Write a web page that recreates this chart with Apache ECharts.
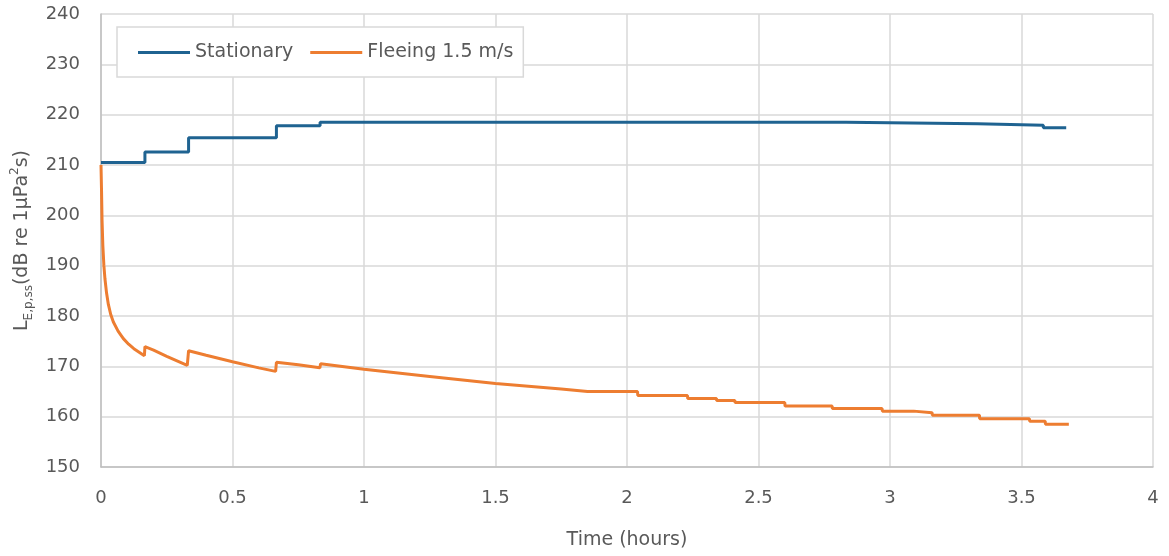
<!DOCTYPE html>
<html>
<head>
<meta charset="utf-8">
<title>Exposure level over time</title>
<script src="https://cdn.jsdelivr.net/npm/echarts@6/dist/echarts.min.js"></script>
<style>
  html, body { margin: 0; padding: 0; background: #fff; }
  #chart { width: 1169px; height: 556px; }
</style>
</head>
<body>
<div id="chart"></div>
<script>
// data (time in hours, level in dB)
const stationaryTime = [0, 0.167, 0.333, 0.667, 0.833, 2.833, 3.333, 3.583, 3.67];
const stationaryLevel = [210.5, 212.6, 215.4, 217.8, 218.5, 218.2, 217.9, 217.4, 217.4];

const fleeingTime = [
  0, 0.002, 0.004, 0.007, 0.011, 0.015, 0.021, 0.028, 0.037, 0.047, 0.065, 0.085, 0.105, 0.125, 0.145, 0.165,
  0.167, 0.2, 0.25, 0.328,
  0.333, 0.4, 0.5, 0.6, 0.664,
  0.667, 0.75, 0.832,
  0.835, 1.0, 1.25, 1.5, 1.75, 1.85, 2.04,
  2.041, 2.23, 2.231, 2.34, 2.341, 2.41, 2.411, 2.6, 2.601, 2.78, 2.781, 2.97, 2.971,
  3.09, 3.091, 3.16, 3.161, 3.34, 3.341, 3.53, 3.531, 3.59, 3.591, 3.68
];
const fleeingLevel = [
  210, 205, 199, 194, 190, 187.4, 184.6, 182.3, 180.3, 178.8, 177, 175.5, 174.4, 173.5, 172.8, 172.1,
  173.9, 173.2, 172.0, 170.2,
  173.1, 172.2, 170.9, 169.7, 169.0,
  170.8, 170.3, 169.7,
  170.5, 169.4, 168.0, 166.6, 165.5, 165.0, 165.0,
  164.2, 164.2, 163.6, 163.6, 163.2, 163.2, 162.8, 162.8, 162.1, 162.1, 161.6, 161.6, 161.1, 161.1,
  160.8, 160.8, 160.3, 160.3, 159.6, 159.6, 159.1, 159.1, 158.5, 158.5
];

const xTicks = { min: 0, max: 4, interval: 0.5 };
const yTicks = { min: 150, max: 240, interval: 10 };

const textColor = "#595959";
const fontFamily = "DejaVu Sans";

const chart = echarts.init(document.getElementById("chart"));

const option = {
  animation: false,
  textStyle: { fontFamily: fontFamily, color: textColor },
  grid: { left: 101, right: 16, top: 14, bottom: 89 },
  legend: {
    left: 117,
    top: 27,
    padding: [16, 10, 15, 21],
    backgroundColor: "#fff",
    borderColor: "#d9d9d9",
    borderWidth: 1.5,
    itemWidth: 52,
    itemHeight: 3,
    itemGap: 17,
    icon: "rect",
    textStyle: { fontSize: 19, color: textColor, fontFamily: fontFamily },
    data: ["Stationary", "Fleeing 1.5 m/s"],
  },
  xAxis: {
    type: "value",
    min: xTicks.min,
    max: xTicks.max,
    interval: xTicks.interval,
    name: "Time (hours)",
    nameLocation: "middle",
    nameGap: 64,
    nameTextStyle: { fontSize: 19, color: textColor },
    axisLine: { show: true, lineStyle: { color: "#bfbfbf", width: 1.5 } },
    axisTick: { show: false },
    axisLabel: { fontSize: 18, color: textColor, margin: 22 },
    splitLine: { show: true, lineStyle: { color: "#d9d9d9", width: 1.5 } },
  },
  yAxis: {
    type: "value",
    min: yTicks.min,
    max: yTicks.max,
    interval: yTicks.interval,
    name: "{m|L}{sub|E,p,ss}{m|(dB re 1μPa}{sup|2}{m|s)}",
    nameLocation: "middle",
    nameGap: 64,
    nameTextStyle: {
      fontSize: 19,
      color: textColor,
      rich: {
        m: { fontSize: 19, color: textColor, lineHeight: 26 },
        sub: { fontSize: 12, color: textColor, verticalAlign: "bottom", lineHeight: 26 },
        sup: { fontSize: 12, color: textColor, verticalAlign: "top", lineHeight: 26 },
      },
    },
    axisLine: { show: true, lineStyle: { color: "#bfbfbf", width: 1.5 } },
    axisTick: { show: false },
    axisLabel: { fontSize: 18, color: textColor, margin: 21 },
    splitLine: { show: true, lineStyle: { color: "#d9d9d9", width: 1.5 } },
  },
  series: [
    {
      name: "Stationary",
      type: "line",
      step: "end",
      showSymbol: false,
      symbol: "none",
      color: "#1f6391",
      lineStyle: { width: 3, color: "#1f6391" },
      data: stationaryTime.map((t, i) => [t, stationaryLevel[i]]),
      z: 3,
    },
    {
      name: "Fleeing 1.5 m/s",
      type: "line",
      showSymbol: false,
      symbol: "none",
      color: "#ed7d31",
      lineStyle: { width: 3, color: "#ed7d31" },
      data: fleeingTime.map((t, i) => [t, fleeingLevel[i]]),
      z: 2,
    },
  ],
};

chart.setOption(option);
</script>
</body>
</html>
